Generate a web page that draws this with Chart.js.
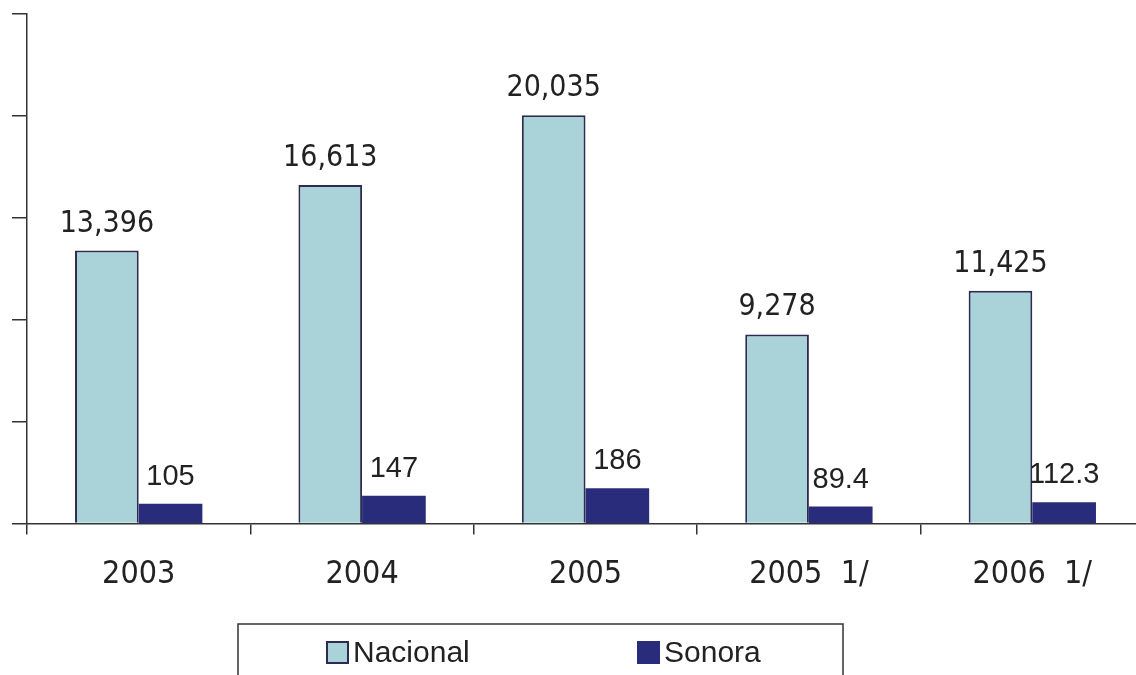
<!DOCTYPE html>
<html>
<head>
<meta charset="utf-8">
<title>Nacional vs Sonora</title>
<script src="https://cdn.jsdelivr.net/npm/chart.js@4.4.1/dist/chart.umd.min.js"></script>
<style>
    html, body { margin: 0; padding: 0; background: #fff; overflow: hidden; }
    #wrap { position: relative; width: 1146px; height: 675px; }
</style>
</head>
<body>
<div id="wrap"><canvas id="barChart"></canvas></div>
<script>
// Data
const categories = ['2003', '2004', '2005', '2005  1/', '2006  1/'];
const nacional = [13396, 16613, 20035, 9278, 11425];
const sonora = [105, 147, 186, 89.4, 112.3];
const seriesNames = ['Nacional', 'Sonora'];

// Axis ranges (Sonora sits on a hidden second axis)
const yMax = 25000;
const yStep = 5000;
const sonoraMax = 2680;

const tahomaLike = "'DejaVu Sans Condensed', 'DejaVu Sans', sans-serif";
const arialLike = "'Liberation Sans', Arial, sans-serif";
const axisColor = '#333';
const textColor = '#222';

// Value labels above each bar
const valueLabels = {
    id: 'valueLabels',
    afterDatasetsDraw(chart) {
        const ctx = chart.ctx;
        ctx.save();
        ctx.textAlign = 'center';
        ctx.textBaseline = 'alphabetic';
        ctx.fillStyle = textColor;
        chart.data.datasets.forEach((ds, i) => {
            const meta = chart.getDatasetMeta(i);
            ctx.font = ds.labelFont;
            meta.data.forEach((bar, j) => {
                ctx.fillText(ds.formatValue(ds.data[j]), bar.x, bar.y - 19);
            });
        });
        ctx.restore();
    }
};

// Boxed legend under the axis
const legendBox = {
    id: 'legendBox',
    afterDraw(chart, args, opts) {
        const ctx = chart.ctx;
        ctx.save();
        ctx.strokeStyle = axisColor;
        ctx.lineWidth = 1.5;
        ctx.strokeRect(opts.left, opts.top, opts.width, opts.height);
        ctx.font = '30px ' + arialLike;
        ctx.textAlign = 'left';
        ctx.textBaseline = 'alphabetic';
        chart.data.datasets.forEach((ds, i) => {
            const x = opts.items[i];
            ctx.fillStyle = ds.backgroundColor;
            ctx.fillRect(x, opts.swatchTop, opts.swatch, opts.swatch);
            if (ds.borderWidth) {
                ctx.strokeStyle = ds.borderColor;
                ctx.lineWidth = 2;
                ctx.strokeRect(x + 1, opts.swatchTop + 1, opts.swatch - 2, opts.swatch - 2);
            }
            ctx.fillStyle = textColor;
            ctx.fillText(ds.label, x + opts.swatch + 4, opts.baseline);
        });
        ctx.restore();
    }
};

const ctx = document.getElementById('barChart');
new Chart(ctx, {
    type: 'bar',
    data: {
        labels: categories,
        datasets: [{
            label: seriesNames[0],
            data: nacional,
            yAxisID: 'y',
            backgroundColor: '#a9d3d8',
            borderColor: '#2e2b50',
            borderWidth: 2,
            labelFont: '30px ' + tahomaLike,
            formatValue: v => v.toLocaleString('en-US')
        }, {
            label: seriesNames[1],
            data: sonora,
            yAxisID: 'y2',
            backgroundColor: '#282c7a',
            borderWidth: 0,
            labelFont: '29px ' + arialLike,
            formatValue: v => String(v)
        }]
    },
    options: {
        responsive: true,
        maintainAspectRatio: false,
        animation: false,
        barPercentage: 1,
        categoryPercentage: 0.57,
        layout: {
            padding: { top: 14, left: 12, right: 2, bottom: 60 }
        },
        plugins: {
            legend: { display: false },
            tooltip: { enabled: false },
            legendBox: {
                left: 238, top: 624, width: 605, height: 70,
                items: [326, 637], swatch: 23, swatchTop: 641, baseline: 662
            }
        },
        scales: {
            x: {
                grid: {
                    display: true,
                    drawOnChartArea: false,
                    drawTicks: true,
                    tickLength: 11,
                    offset: true,
                    color: axisColor,
                    lineWidth: 1.5
                },
                border: { display: true, color: axisColor, width: 1.5 },
                ticks: {
                    color: textColor,
                    font: { family: tahomaLike, size: 32 },
                    padding: 21,
                    maxRotation: 0,
                    autoSkip: false
                }
            },
            y: {
                min: 0,
                max: yMax,
                ticks: { display: false, stepSize: yStep },
                grid: {
                    drawOnChartArea: false,
                    drawTicks: true,
                    tickLength: 15,
                    color: axisColor,
                    lineWidth: 1.5
                },
                border: { display: true, color: axisColor, width: 1.5 }
            },
            y2: {
                display: false,
                position: 'right',
                min: 0,
                max: sonoraMax
            }
        }
    },
    plugins: [valueLabels, legendBox]
});
</script>
</body>
</html>
